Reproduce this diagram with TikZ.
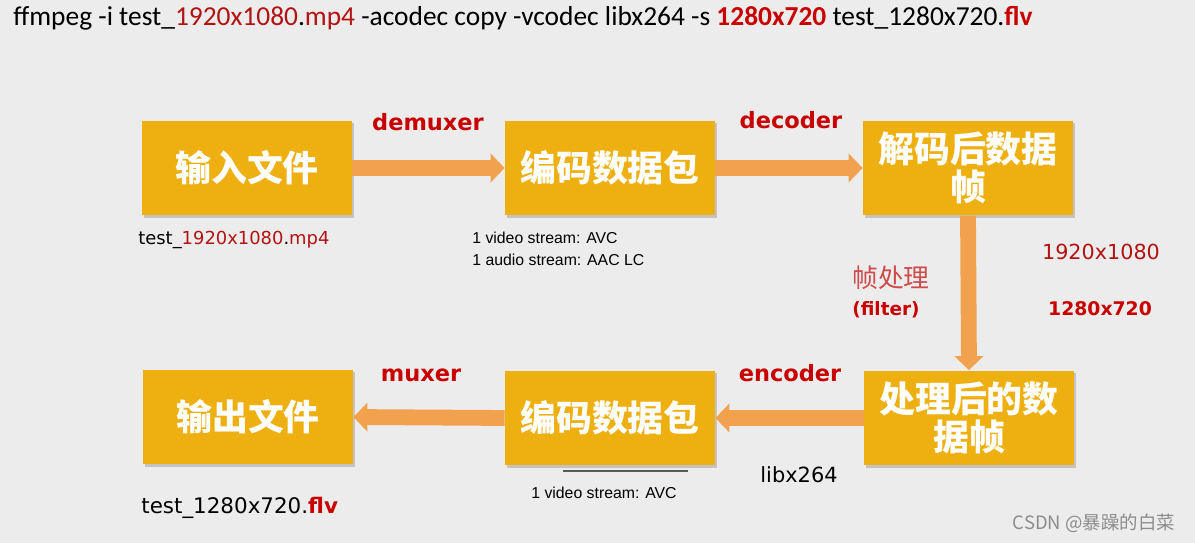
\documentclass[tikz,border=0pt]{standalone}
\usepackage{fontspec}
\setmainfont{DejaVu Sans}
\newfontfamily\cjk{Noto Sans CJK SC}
\newfontfamily\cali{Carlito}
\newfontfamily\arialf{Liberation Sans}
\usetikzlibrary{arrows.meta,shadows}
\definecolor{boxyellow}{RGB}{238,176,16}
\definecolor{arrorange}{RGB}{242,162,78}
\definecolor{bgray}{RGB}{236,236,236}
\definecolor{lblred}{RGB}{200,0,0}
\definecolor{numred}{RGB}{178,18,18}
\definecolor{softred}{RGB}{205,75,75}
\definecolor{markgray}{RGB}{140,140,140}

\begin{document}
\begin{tikzpicture}[x=0.02cm,y=-0.02cm,
	stage/.style={fill=boxyellow, minimum width=4.2cm, minimum height=1.9cm, align=center,
		text=white, font=\cjk\bfseries\fontsize{20.4}{21.5}\selectfont,
		drop shadow={shadow xshift=1.2pt,shadow yshift=-1.2pt,opacity=.3,fill=black!60}},
	flow/.style={draw=arrorange, line width=9pt, -{Triangle[length=8pt,width=16pt]}},
	tag/.style={text=lblred, font=\bfseries\fontsize{12.8}{15}\selectfont},
	note/.style={inner sep=0, align=left, font=\arialf\fontsize{9}{12.5}\selectfont}]
				\fill[bgray] (0,0) rectangle (1195,543);
				% command line
				\node[anchor=west, inner sep=0, font=\cali\fontsize{15.6}{18}\selectfont] (cmd) at (13,18)
					{ffmpeg -i test\_\textcolor{numred}{1920x1080}.\textcolor{numred}{mp4} -acodec copy -vcodec libx264 -s \textcolor{lblred}{\bfseries 1280x720} test\_1280x720.\textcolor{lblred}{\bfseries flv}};
				% stages
				\node[stage] (inF) at (247,168) {输入文件};
				\node[stage] (pktA) at (610,168) {编码数据包};
				\node[stage] (frmA) at (968,168) {解码后数据\\帧};
				\node[stage] (outF) at (248,417) {输出文件};
				\node[stage] (pktB) at (610,418) {编码数据包};
				\node[stage] (frmB) at (969,418) {处理后的数\\据帧};
				% flow
				\draw[flow] (inF.east) -- (pktA.west);
				\draw[flow] (pktA.east) -- (frmA.west);
				\draw[flow] (frmA.south) -- (frmB.north);
				\draw[flow] (frmB.west) -- (pktB.east);
				\draw[flow] (pktB.west) -- (outF.east);
				\node[tag] (dmx) at (428,122) {demuxer};
				\node[tag] (dec) at (791,120) {decoder};
				\node[tag] (mux) at (421,375) {muxer};
				\node[tag] (enc) at (790,373) {encoder};
				% notes
				\node[anchor=west, inner sep=0, font=\fontsize{10.2}{12}\selectfont] (inName) at (138,240)
					{test\_\textcolor{numred}{1920x1080}.\textcolor{numred}{mp4}};
				\node[note, anchor=west] (streamsA) at (472,249) {1 video stream: AVC\\1 audio stream: AAC LC};
				\node[text=softred, font=\cjk\fontsize{14.7}{17}\selectfont] (fproc) at (891,278) {帧处理};
				\node[text=lblred, font=\bfseries\fontsize{10.5}{12}\selectfont] (filt) at (886,310) {(filter)};
				\node[text=numred, font=\fontsize{11.8}{14}\selectfont] (srcRes) at (1101,252) {1920x1080};
				\node[text=lblred, font=\bfseries\fontsize{10.7}{13}\selectfont] (dstRes) at (1100,309) {1280x720};
				\node[font=\fontsize{11.9}{14}\selectfont] (lib) at (799,475) {libx264};
				\draw[line width=1.2pt, black!65] (563,471) -- (688,471);
				\node[note] (streamsB) at (604,493) {1 video stream: AVC};
				\node[anchor=west, inner sep=0, font=\fontsize{12.2}{14}\selectfont] (outName) at (141,508)
					{test\_1280x720.\textcolor{lblred}{\bfseries flv}};
				\node[text=markgray, font=\cjk\fontsize{10.5}{12}\selectfont] (mark) at (1094,523) {CSDN @暴躁的白菜};
			\end{tikzpicture}
\end{document}
